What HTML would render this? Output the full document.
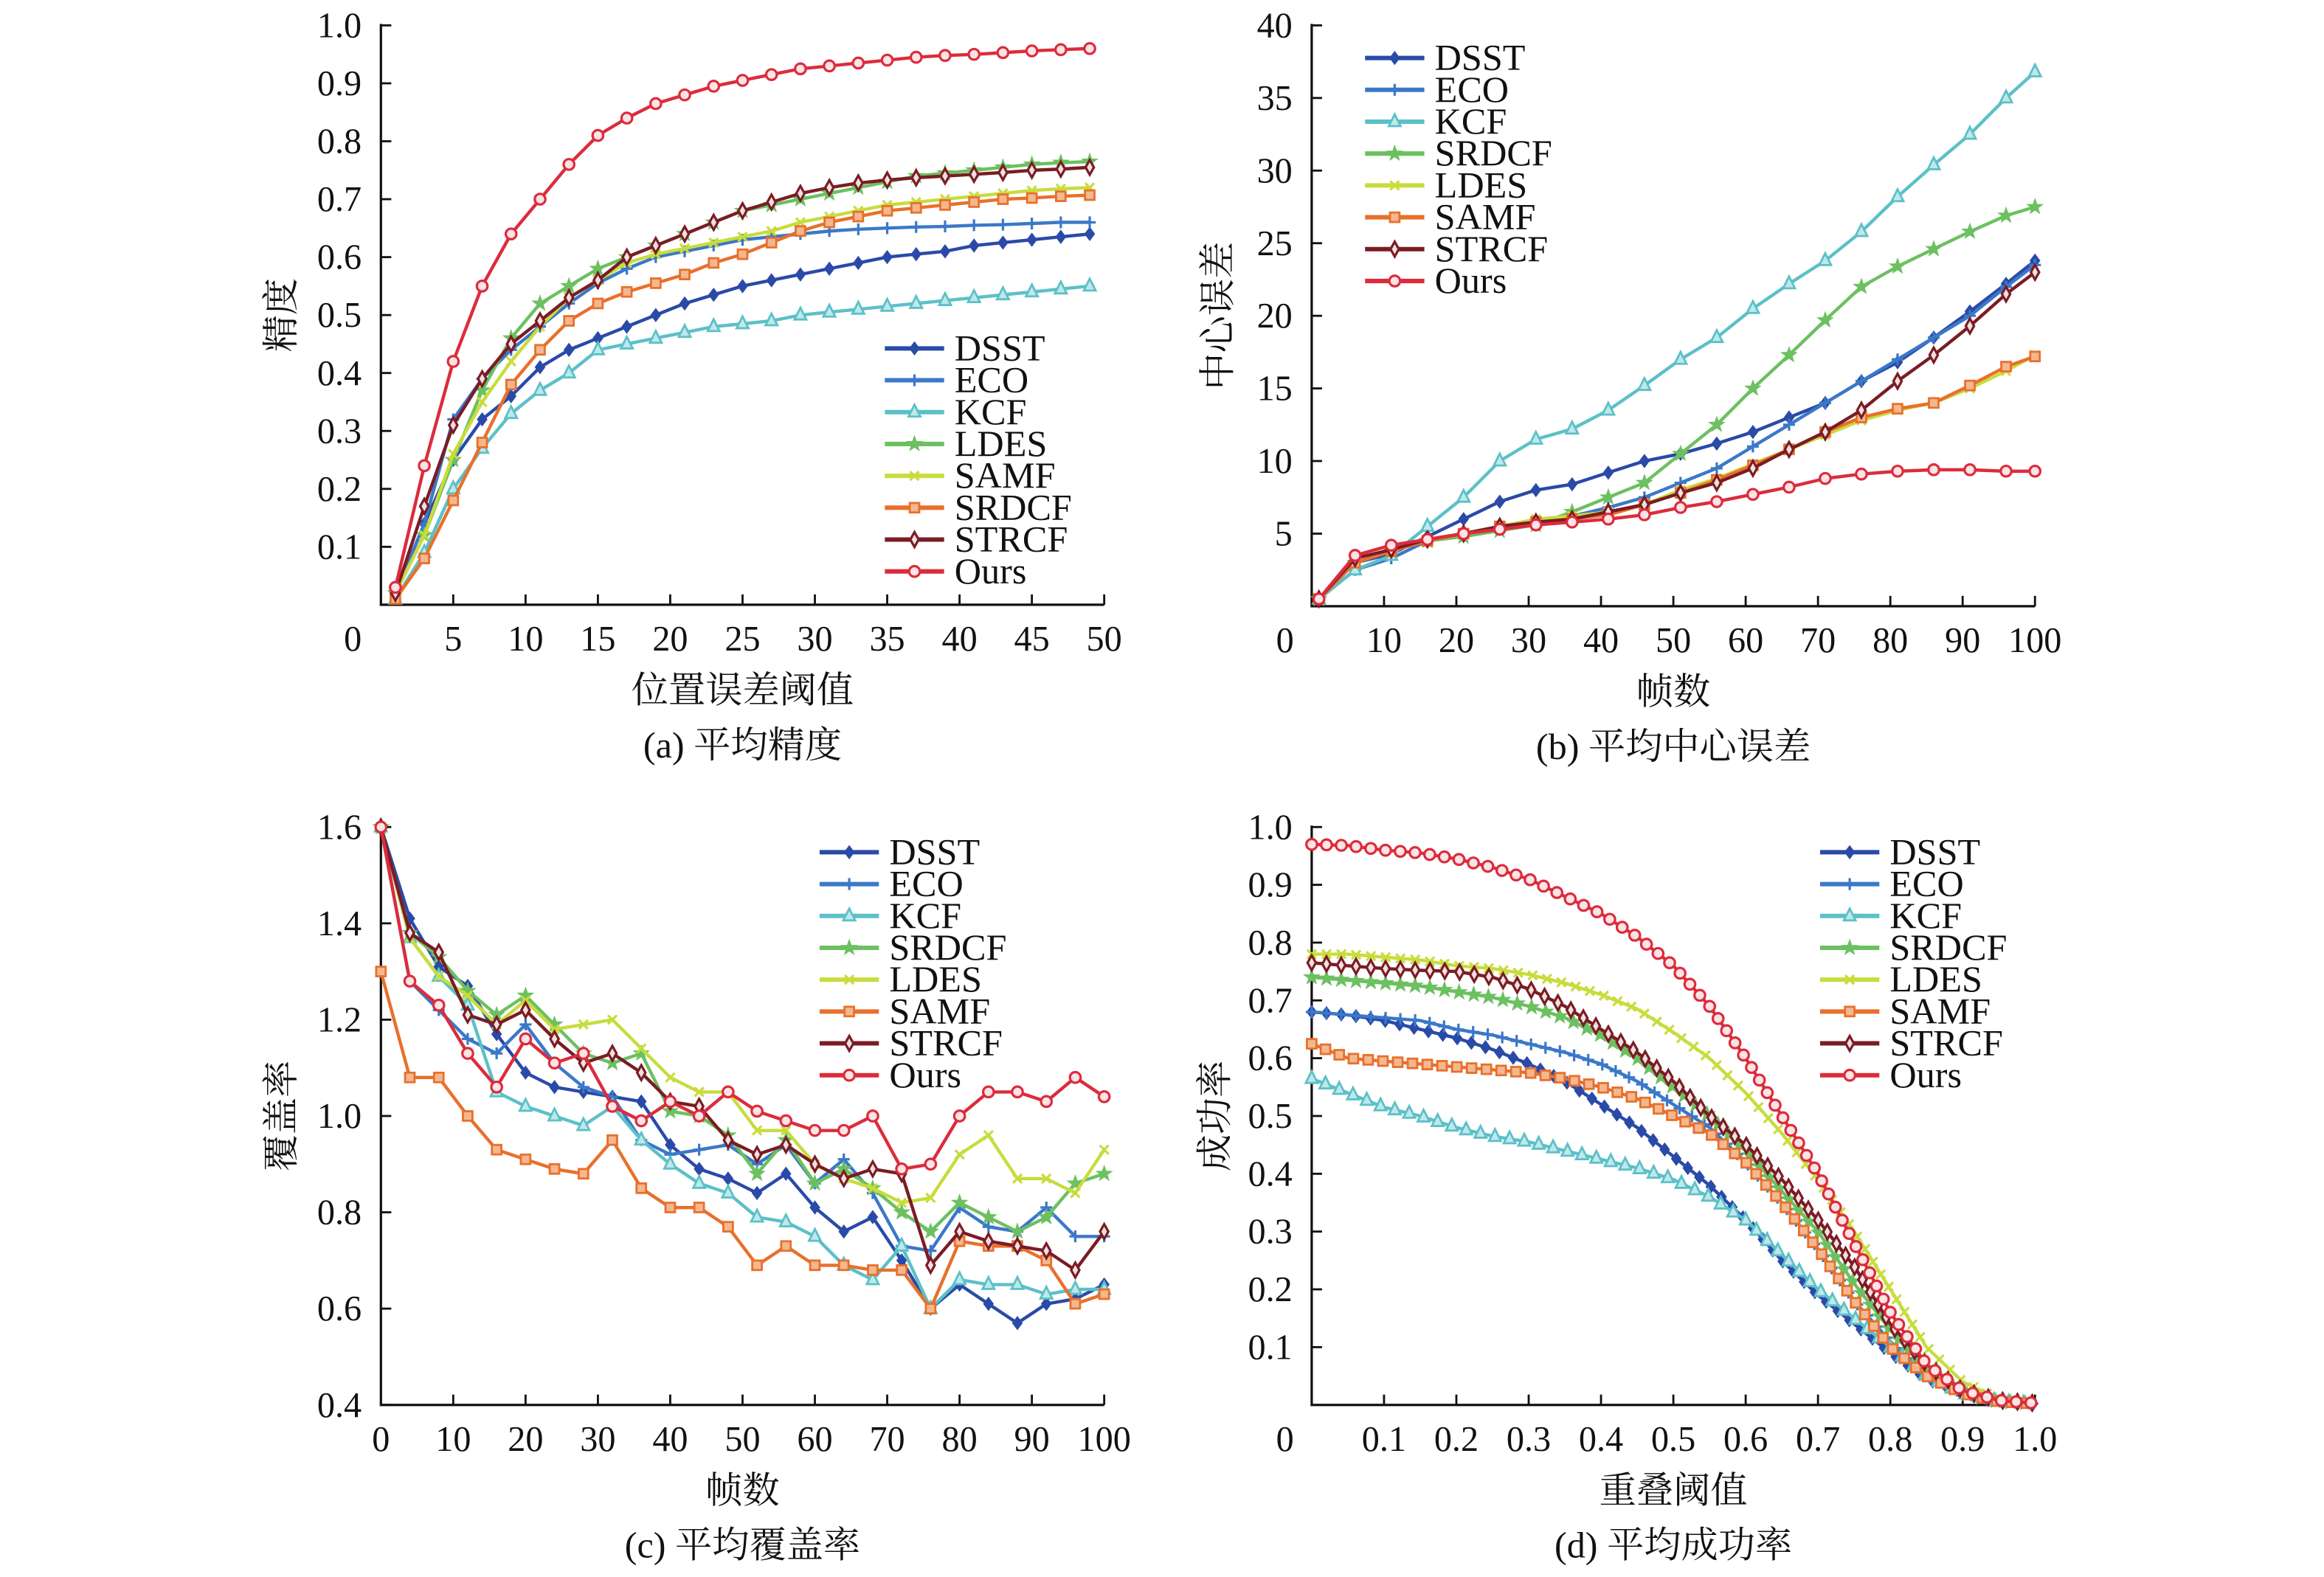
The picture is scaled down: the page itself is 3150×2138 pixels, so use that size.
<!DOCTYPE html>
<html><head><meta charset="utf-8">
<style>
html,body{margin:0;padding:0;background:#fff;}
svg{display:block;}
text{font-family:"Liberation Serif","Noto Serif CJK SC",serif;fill:#111;}
</style></head>
<body>
<svg id="chart" width="3150" height="2138" viewBox="0 0 1568 1064" xmlns="http://www.w3.org/2000/svg"></svg>
<script>
// ===== Panel (a) average precision =====
const aX = [1,3,5,7,9,11,13,15,17,19,21,23,25,27,29,31,33,35,37,39,41,43,45,47,49];
const aDSST = [0.02,0.14,0.25,0.32,0.36,0.41,0.44,0.46,0.48,0.50,0.52,0.535,0.55,0.56,0.57,0.58,0.59,0.60,0.605,0.61,0.62,0.625,0.63,0.635,0.64];
const aECO = [0.02,0.14,0.32,0.39,0.44,0.48,0.52,0.555,0.58,0.60,0.61,0.62,0.63,0.635,0.64,0.645,0.648,0.65,0.652,0.653,0.655,0.656,0.658,0.66,0.66];
const aKCF = [0.01,0.09,0.20,0.27,0.33,0.37,0.40,0.44,0.45,0.46,0.47,0.48,0.485,0.49,0.50,0.505,0.51,0.515,0.52,0.525,0.53,0.535,0.54,0.545,0.55];
const aLDES = [0.02,0.12,0.25,0.37,0.46,0.52,0.55,0.58,0.60,0.62,0.64,0.66,0.68,0.69,0.70,0.71,0.72,0.73,0.74,0.745,0.75,0.755,0.76,0.763,0.765];
const aSAMF = [0.02,0.12,0.26,0.35,0.42,0.48,0.53,0.56,0.59,0.605,0.615,0.625,0.635,0.645,0.66,0.67,0.68,0.69,0.695,0.70,0.705,0.71,0.715,0.718,0.72];
const aSRDCF = [0.01,0.08,0.18,0.28,0.38,0.44,0.49,0.52,0.54,0.555,0.57,0.59,0.605,0.625,0.645,0.66,0.67,0.68,0.685,0.69,0.695,0.70,0.702,0.705,0.707];
const aSTRCF = [0.02,0.17,0.31,0.39,0.45,0.49,0.53,0.56,0.60,0.62,0.64,0.66,0.68,0.695,0.71,0.72,0.728,0.733,0.737,0.74,0.743,0.746,0.75,0.752,0.755];
const aOurs = [0.03,0.24,0.42,0.55,0.64,0.70,0.76,0.81,0.84,0.865,0.88,0.895,0.905,0.915,0.925,0.93,0.935,0.94,0.945,0.948,0.95,0.953,0.956,0.958,0.96];
const aXTicks = ["0","5","10","15","20","25","30","35","40","45","50"];
const aYTicks = ["0.1","0.2","0.3","0.4","0.5","0.6","0.7","0.8","0.9","1.0"];

// ===== Panel (b) average center error =====
const bX = [1,6,11,16,21,26,31,36,41,46,51,56,61,66,71,76,81,86,91,96,100];
const bDSST = [0.5,3.0,3.6,4.8,6.0,7.2,8.0,8.4,9.2,10.0,10.5,11.2,12.0,13.0,14.0,15.5,16.8,18.5,20.3,22.2,23.8];
const bECO = [0.5,2.5,3.3,4.5,5.0,5.5,5.8,6.2,6.8,7.5,8.5,9.5,11.0,12.5,14.0,15.5,17.0,18.5,20.0,22.0,23.5];
const bKCF = [0.5,2.5,3.5,5.5,7.5,10.0,11.5,12.2,13.5,15.2,17.0,18.5,20.5,22.2,23.8,25.8,28.2,30.4,32.5,35.0,36.8];
const bSRDCF = [0.5,3.0,3.8,4.5,4.8,5.2,5.6,6.5,7.5,8.5,10.5,12.5,15.0,17.3,19.7,22.0,23.4,24.6,25.8,26.9,27.5];
const bLDES = [0.5,3.0,3.8,4.5,5.0,5.5,6.0,6.2,6.5,7.0,8.0,8.8,9.8,10.8,11.8,12.8,13.5,14.0,15.0,16.2,17.3];
const bSAMF = [0.5,3.0,3.8,4.5,5.0,5.5,5.8,6.0,6.3,7.0,7.8,8.7,9.7,10.8,12.0,13.0,13.6,14.0,15.2,16.5,17.2];
const bSTRCF = [0.5,3.3,3.9,4.6,5.0,5.5,5.8,6.0,6.5,7.0,7.8,8.5,9.5,10.8,12.0,13.5,15.5,17.3,19.3,21.5,23.0];
const bOurs = [0.5,3.5,4.2,4.6,5.0,5.3,5.6,5.8,6.0,6.3,6.8,7.2,7.7,8.2,8.8,9.1,9.3,9.4,9.4,9.3,9.3];
const bXTicks = ["0","10","20","30","40","50","60","70","80","90","100"];
const bYTicks = ["5","10","15","20","25","30","35","40"];

// ===== Panel (c) average overlap =====
const cX = [0,4,8,12,16,20,24,28,32,36,40,44,48,52,56,60,64,68,72,76,80,84,88,92,96,100];
const cDSST = [1.6,1.41,1.31,1.27,1.17,1.09,1.06,1.05,1.04,1.03,0.94,0.89,0.87,0.84,0.88,0.81,0.76,0.79,0.70,0.60,0.65,0.61,0.57,0.61,0.62,0.65];
const cECO = [1.6,1.28,1.22,1.16,1.13,1.19,1.11,1.06,1.04,0.95,0.92,0.93,0.94,0.90,0.94,0.86,0.91,0.84,0.73,0.72,0.81,0.77,0.76,0.81,0.75,0.75];
const cKCF = [1.6,1.37,1.29,1.23,1.05,1.02,1.0,0.98,1.02,0.95,0.90,0.86,0.84,0.79,0.78,0.75,0.69,0.66,0.73,0.60,0.66,0.65,0.65,0.63,0.64,0.64];
const cSRDCF = [1.6,1.38,1.33,1.26,1.21,1.25,1.19,1.13,1.11,1.13,1.01,1.0,0.96,0.88,0.95,0.86,0.89,0.85,0.80,0.76,0.82,0.79,0.76,0.79,0.86,0.88];
const cLDES = [1.6,1.37,1.29,1.25,1.19,1.24,1.18,1.19,1.20,1.14,1.08,1.05,1.05,0.97,0.97,0.90,0.87,0.85,0.82,0.83,0.92,0.96,0.87,0.87,0.84,0.93];
const cSAMF = [1.3,1.08,1.08,1.0,0.93,0.91,0.89,0.88,0.95,0.85,0.81,0.81,0.77,0.69,0.73,0.69,0.69,0.68,0.68,0.60,0.74,0.73,0.73,0.70,0.61,0.63];
const cSTRCF = [1.6,1.38,1.34,1.21,1.19,1.22,1.16,1.11,1.13,1.09,1.03,1.02,0.95,0.92,0.94,0.90,0.87,0.89,0.88,0.69,0.76,0.74,0.73,0.72,0.68,0.76];
const cOurs = [1.6,1.28,1.23,1.13,1.06,1.16,1.11,1.13,1.02,0.99,1.03,1.0,1.05,1.01,0.99,0.97,0.97,1.0,0.89,0.90,1.0,1.05,1.05,1.03,1.08,1.04];
const cXTicks = ["0","10","20","30","40","50","60","70","80","90","100"];
const cYTicks = ["0.4","0.6","0.8","1.0","1.2","1.4","1.6"];

// ===== Panel (d) average success =====
const dX = [0,0.05,0.1,0.15,0.2,0.25,0.3,0.35,0.4,0.45,0.5,0.55,0.6,0.65,0.7,0.75,0.8,0.85,0.9,0.95,1.0];
const dDSST = [0.68,0.675,0.665,0.65,0.635,0.615,0.59,0.56,0.52,0.48,0.43,0.38,0.32,0.25,0.19,0.14,0.09,0.045,0.02,0.006,0.002];
const dECO = [0.68,0.675,0.67,0.665,0.65,0.64,0.625,0.61,0.59,0.56,0.52,0.48,0.42,0.35,0.27,0.18,0.11,0.05,0.02,0.006,0.002];
const dKCF = [0.565,0.54,0.515,0.5,0.48,0.465,0.455,0.44,0.425,0.41,0.39,0.36,0.32,0.26,0.2,0.15,0.1,0.05,0.02,0.006,0.002];
const dSRDCF = [0.74,0.735,0.73,0.725,0.715,0.705,0.69,0.67,0.64,0.6,0.55,0.5,0.44,0.37,0.3,0.21,0.13,0.06,0.02,0.006,0.002];
const dLDES = [0.78,0.78,0.775,0.77,0.76,0.755,0.745,0.73,0.71,0.685,0.645,0.6,0.54,0.47,0.39,0.3,0.2,0.1,0.04,0.01,0.003];
const dSAMF = [0.625,0.6,0.595,0.59,0.585,0.58,0.575,0.565,0.55,0.53,0.5,0.47,0.42,0.35,0.27,0.18,0.1,0.05,0.02,0.006,0.002];
const dSTRCF = [0.765,0.76,0.755,0.752,0.75,0.74,0.72,0.69,0.65,0.61,0.56,0.5,0.45,0.39,0.32,0.24,0.14,0.07,0.025,0.008,0.003];
const dOurs = [0.97,0.968,0.96,0.955,0.945,0.93,0.91,0.88,0.85,0.81,0.76,0.69,0.60,0.50,0.40,0.28,0.16,0.07,0.025,0.008,0.003];
const dXTicks = ["0","0.1","0.2","0.3","0.4","0.5","0.6","0.7","0.8","0.9","1.0"];
const dYTicks = ["0.1","0.2","0.3","0.4","0.5","0.6","0.7","0.8","0.9","1.0"];

const NS = "http://www.w3.org/2000/svg";
const svg = document.getElementById('chart');
const COL = {DSST:'#2a4aa8',ECO:'#3b78c8',KCF:'#5cc0c8',G:'#6cc060',Y:'#c8dc3c',O:'#e8702c',STRCF:'#7a1c24',Ours:'#dc2c3c'};
const SHP = {DSST:'dfill',ECO:'plus',KCF:'tri',G:'star',Y:'x',O:'sq',STRCF:'dopen',Ours:'circ'};

function mk(tag, attrs, parent){
  const e = document.createElementNS(NS, tag);
  for (const k in attrs) e.setAttribute(k, attrs[k]);
  (parent||svg).appendChild(e);
  return e;
}
function marker(g, shape, x, y, c){
  let e;
  const r = 4;
  if (shape==='dfill'){ e = mk('polygon',{points:`${x},${y-r} ${x+r*0.75},${y} ${x},${y+r} ${x-r*0.75},${y}`,fill:c,stroke:c,'stroke-width':1},g); }
  else if (shape==='dopen'){ e = mk('polygon',{points:`${x},${y-r-1} ${x+r*0.7},${y} ${x},${y+r+1} ${x-r*0.7},${y}`,fill:'#f0e0e0',stroke:c,'stroke-width':1.6},g); }
  else if (shape==='plus'){ e = mk('path',{d:`M${x-r},${y}H${x+r}M${x},${y-r}V${y+r}`,stroke:c,'stroke-width':1.6,fill:'none'},g); }
  else if (shape==='x'){ e = mk('path',{d:`M${x-3},${y-3}L${x+3},${y+3}M${x+3},${y-3}L${x-3},${y+3}`,stroke:c,'stroke-width':1.6,fill:'none'},g); }
  else if (shape==='tri'){ e = mk('polygon',{points:`${x},${y-r-1} ${x+r},${y+r-1} ${x-r},${y+r-1}`,fill:'#bfe8ea',stroke:c,'stroke-width':1.4},g); }
  else if (shape==='sq'){ e = mk('rect',{x:x-3.2,y:y-3.2,width:6.4,height:6.4,fill:'#f4b890',stroke:c,'stroke-width':1.4},g); }
  else if (shape==='star'){
    let p=[]; for(let i=0;i<10;i++){const a=-Math.PI/2+i*Math.PI/5; const rr=i%2?2:5; p.push((x+rr*Math.cos(a)).toFixed(1)+','+(y+rr*Math.sin(a)).toFixed(1));}
    e = mk('polygon',{points:p.join(' '),fill:c,stroke:c,'stroke-width':0.8},g);
  }
  else { e = mk('circle',{cx:x,cy:y,r:3.6,fill:'#fbe4e6',stroke:c,'stroke-width':1.6},g); }
  
  
}

function panel(cfg){
  const g = mk('g',{});
  
  
  const sx = v => cfg.x0 + (v - cfg.xmin)/(cfg.xmax-cfg.xmin)*(cfg.x1-cfg.x0);
  const sy = v => cfg.y0 - (v - cfg.ymin)/(cfg.ymax-cfg.ymin)*(cfg.y0-cfg.y1);
  const ax = mk('path',{d:`M${cfg.x0},${cfg.y1-1}V${cfg.y0}H${cfg.x1}`,stroke:'#111','stroke-width':1.6,fill:'none'},g);
  
  
  cfg.xTicks.forEach((t,i)=>{
    const v = cfg.xmin + i*(cfg.xmax-cfg.xmin)/(cfg.xTicks.length-1);
    const px = sx(v);
    if (i>0){ const tk = mk('line',{x1:px,x2:px,y1:cfg.y0,y2:cfg.y0-7,stroke:'#111','stroke-width':1.4},g);
        }
    const tx = mk('text',{x:(i===0?px-cfg.zeroShift:px),y:cfg.y0+31,'font-size':24,'text-anchor':'middle'},g);
    tx.textContent = t;
    
    
  });
  cfg.yTicks.forEach((t)=>{
    const v = parseFloat(t);
    const py = sy(v);
    const tk = mk('line',{x1:cfg.x0,x2:cfg.x0+7,y1:py,y2:py,stroke:'#111','stroke-width':1.4},g);
     
    const tx = mk('text',{x:cfg.x0-13,y:py+8,'font-size':24,'text-anchor':'end'},g);
    tx.textContent = t;
    
    
  });
  cfg.series.forEach(s=>{
    const sg = mk('g',{},g);
    
    
    const pts = cfg.xs.map((x,i)=>[sx(x), sy(s.vals[i])]);
    const pl = mk('polyline',{points:pts.map(p=>p[0].toFixed(1)+','+p[1].toFixed(1)).join(' '),fill:'none',stroke:COL[s.key],'stroke-width':2.2,'stroke-linejoin':'round'},sg);
    
    
    if (cfg.dense){
      const L = pl.getTotalLength();
      for (let d=0; d<=L; d+=cfg.dense){ const p = pl.getPointAtLength(d); marker(sg, SHP[s.key], p.x, p.y, COL[s.key]); }
    } else {
      pts.forEach(p=>marker(sg, SHP[s.key], p[0], p[1], COL[s.key]));
    }
  });
  const lg = mk('g',{},g);
  
  
  cfg.series.forEach((s,i)=>{
    const y = cfg.legY + i*21.5;
    const ln = mk('line',{x1:cfg.legX,x2:cfg.legX+40,y1:y,y2:y,stroke:COL[s.key],'stroke-width':3},lg);
    
    
    marker(lg, SHP[s.key], cfg.legX+20, y, COL[s.key]);
    const tx = mk('text',{x:cfg.legX+47,y:y+8,'font-size':25},lg);
    tx.textContent = s.name;
    
    
  });
  const yl = mk('text',{x:0,y:0,'font-size':25,'text-anchor':'middle',transform:`translate(${cfg.yLabX},${(cfg.y0+cfg.y1)/2}) rotate(-90)`},g);
  yl.textContent = cfg.yLabel;
  
  
  const xl = mk('text',{x:(cfg.x0+cfg.x1)/2,y:cfg.y0+66,'font-size':25,'text-anchor':'middle'},g);
  xl.textContent = cfg.xLabel;
  
  
  const cp = mk('text',{x:(cfg.x0+cfg.x1)/2,y:cfg.y0+103,'font-size':25,'text-anchor':'middle'},g);
  cp.textContent = cfg.caption;
  
  
}

panel({id:'panel-a-precision',x0:257,x1:745,y0:408,y1:17,xmin:0,xmax:50,ymin:0,ymax:1.0,zeroShift:19,
  xs:aX,xTicks:aXTicks,yTicks:aYTicks,legX:597,legY:235,yLabX:198,
  yLabel:'精度',xLabel:'位置误差阈值',caption:'(a) 平均精度',
  series:[{name:'DSST',key:'DSST',vals:aDSST},{name:'ECO',key:'ECO',vals:aECO},{name:'KCF',key:'KCF',vals:aKCF},
    {name:'LDES',key:'G',vals:aLDES},{name:'SAMF',key:'Y',vals:aSAMF},{name:'SRDCF',key:'O',vals:aSRDCF},
    {name:'STRCF',key:'STRCF',vals:aSTRCF},{name:'Ours',key:'Ours',vals:aOurs}]});

panel({id:'panel-b-center-error',x0:885,x1:1373,y0:409,y1:17,xmin:0,xmax:100,ymin:0,ymax:40,zeroShift:18,
  xs:bX,xTicks:bXTicks,yTicks:bYTicks,legX:921,legY:39,yLabX:830,
  yLabel:'中心误差',xLabel:'帧数',caption:'(b) 平均中心误差',
  series:[{name:'DSST',key:'DSST',vals:bDSST},{name:'ECO',key:'ECO',vals:bECO},{name:'KCF',key:'KCF',vals:bKCF},
    {name:'SRDCF',key:'G',vals:bSRDCF},{name:'LDES',key:'Y',vals:bLDES},{name:'SAMF',key:'O',vals:bSAMF},
    {name:'STRCF',key:'STRCF',vals:bSTRCF},{name:'Ours',key:'Ours',vals:bOurs}]});

panel({id:'panel-c-overlap',x0:257,x1:745,y0:948,y1:558,xmin:0,xmax:100,ymin:0.4,ymax:1.6,zeroShift:0,
  xs:cX,xTicks:cXTicks,yTicks:cYTicks,legX:553,legY:575,yLabX:198,
  yLabel:'覆盖率',xLabel:'帧数',caption:'(c) 平均覆盖率',
  series:[{name:'DSST',key:'DSST',vals:cDSST},{name:'ECO',key:'ECO',vals:cECO},{name:'KCF',key:'KCF',vals:cKCF},
    {name:'SRDCF',key:'G',vals:cSRDCF},{name:'LDES',key:'Y',vals:cLDES},{name:'SAMF',key:'O',vals:cSAMF},
    {name:'STRCF',key:'STRCF',vals:cSTRCF},{name:'Ours',key:'Ours',vals:cOurs}]});

panel({id:'panel-d-success',x0:885,x1:1373,y0:948,y1:558,xmin:0,xmax:1.0,ymin:0,ymax:1.0,zeroShift:18,dense:10,
  xs:dX,xTicks:dXTicks,yTicks:dYTicks,legX:1228,legY:575,yLabX:828,
  yLabel:'成功率',xLabel:'重叠阈值',caption:'(d) 平均成功率',
  series:[{name:'DSST',key:'DSST',vals:dDSST},{name:'ECO',key:'ECO',vals:dECO},{name:'KCF',key:'KCF',vals:dKCF},
    {name:'SRDCF',key:'G',vals:dSRDCF},{name:'LDES',key:'Y',vals:dLDES},{name:'SAMF',key:'O',vals:dSAMF},
    {name:'STRCF',key:'STRCF',vals:dSTRCF},{name:'Ours',key:'Ours',vals:dOurs}]});
</script>
</body></html>
